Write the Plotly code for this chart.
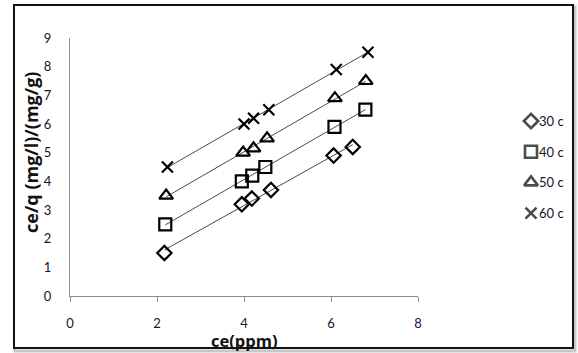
import numpy as np
import plotly.graph_objects as go

# Equilibrium concentration (ppm) and ce/q for each temperature
ce_30 = [2.17, 3.95, 4.18, 4.62, 6.06, 6.50]
cq_30 = [1.5, 3.2, 3.4, 3.7, 4.9, 5.2]

ce_40 = [2.19, 3.95, 4.19, 4.49, 6.08, 6.79]
cq_40 = [2.5, 4.0, 4.2, 4.5, 5.9, 6.5]

ce_50 = [2.21, 3.98, 4.22, 4.53, 6.09, 6.80]
cq_50 = [3.5, 5.0, 5.15, 5.5, 6.9, 7.5]

ce_60 = [2.24, 4.00, 4.22, 4.57, 6.12, 6.85]
cq_60 = [4.5, 6.0, 6.2, 6.5, 7.9, 8.5]

series_names = ["30 c", "40 c", "50 c", "60 c"]
x_ticks = [0, 2, 4, 6, 8]
y_ticks = list(range(0, 10))

symbols = ["diamond-open", "square-open", "triangle-up-open", "x-thin-open"]
sizes = [11, 12, 12, 11]
xs_all = [ce_30, ce_40, ce_50, ce_60]
ys_all = [cq_30, cq_40, cq_50, cq_60]

W, H = 578, 353
FONT = "Lato, 'Open Sans', sans-serif"
TITLE_FONT = "'Open Sans', sans-serif"
TXT = "#15152a"

fig = go.Figure()

# Linear trendlines fitted to each series
for xs, ys in zip(xs_all, ys_all):
    xs_a = np.array(xs)
    slope, icpt = np.polyfit(xs_a, np.array(ys), 1)
    xl = np.array([xs_a.min(), xs_a.max()])
    fig.add_trace(go.Scatter(
        x=xl, y=slope * xl + icpt, mode="lines",
        line=dict(color="#4a4a4a", width=1),
        showlegend=False, hoverinfo="skip",
    ))

# Data points
for name, xs, ys, sym, sz in zip(series_names, xs_all, ys_all, symbols, sizes):
    fig.add_trace(go.Scatter(
        x=xs, y=ys, mode="markers", name=name, showlegend=False,
        marker=dict(symbol=sym, size=sz, color="black",
                    line=dict(color="black", width=2.2)),
    ))

# Legend on the right, drawn on a pixel-space overlay axis
leg_x, leg_y0, leg_dy = 531, 121, 30.7
fig.add_trace(go.Scatter(
    x=[leg_x] * 4, y=[leg_y0 + i * leg_dy for i in range(4)],
    mode="markers", xaxis="x2", yaxis="y2", showlegend=False, hoverinfo="skip",
    marker=dict(symbol=symbols, size=[11, 12, 12, 11], color="black",
                line=dict(color="black", width=2.6)),
))
annotations = []
for i, name in enumerate(series_names):
    annotations.append(dict(
        xref="x2", yref="y2", x=leg_x + 6, y=leg_y0 + i * leg_dy,
        text=name, showarrow=False, xanchor="left", yanchor="middle",
        font=dict(family=FONT, size=13, color=TXT),
    ))

# Axis titles
annotations.append(dict(
    xref="x2", yref="y2", x=244, y=340, text="<b>ce(ppm)</b>",
    showarrow=False, xanchor="center", yanchor="middle",
    font=dict(family=TITLE_FONT, size=16.5, color="#111111"),
))
annotations.append(dict(
    xref="x2", yref="y2", x=31, y=153, text="<b>ce/q (mg/l)/(mg/g)</b>",
    showarrow=False, textangle=-90, xanchor="center", yanchor="middle",
    font=dict(family=TITLE_FONT, size=18, color="#111111"),
))

fig.update_layout(
    width=W, height=H,
    margin=dict(l=0, r=0, t=0, b=0, autoexpand=False),
    paper_bgcolor="white", plot_bgcolor="rgba(0,0,0,0)",
    font=dict(family=FONT, size=13, color=TXT),
    showlegend=False,
    annotations=annotations,
    xaxis=dict(
        domain=[70 / W, 418 / W],
        range=[0, 8], tickvals=x_ticks, showgrid=False, zeroline=False,
        showline=True, linecolor="#8c8c8c", linewidth=1,
        ticks="outside", ticklen=5, tickcolor="#8c8c8c",
        ticklabelstandoff=10, automargin=False,
        tickfont=dict(size=13, color=TXT),
    ),
    yaxis=dict(
        domain=[(H - 296) / H, (H - 38) / H],
        range=[0, 9], tickvals=y_ticks, showgrid=False, zeroline=False,
        showline=True, linecolor="#8c8c8c", linewidth=1,
        ticks="", ticklabelstandoff=15, automargin=False,
        tickfont=dict(size=13, color=TXT),
    ),
    xaxis2=dict(domain=[0, 1], range=[0, W], visible=False, fixedrange=True),
    yaxis2=dict(domain=[0, 1], range=[H, 0], visible=False, fixedrange=True,
                anchor="x2"),
)

# Outer chart frame with a soft shadow (paper space, behind everything)
def px(x):
    return x / W

def py(y):
    return 1 - y / H

fig.add_shape(type="rect", xref="paper", yref="paper",
              x0=px(15), x1=px(575), y0=py(351), y1=py(7),
              line=dict(color="rgba(0,0,0,0.22)", width=3), layer="below")
fig.add_shape(type="rect", xref="paper", yref="paper",
              x0=px(14), x1=px(573), y0=py(348), y1=py(5),
              line=dict(color="#111111", width=2), fillcolor="white", layer="below")

fig.write_html("out.html")
